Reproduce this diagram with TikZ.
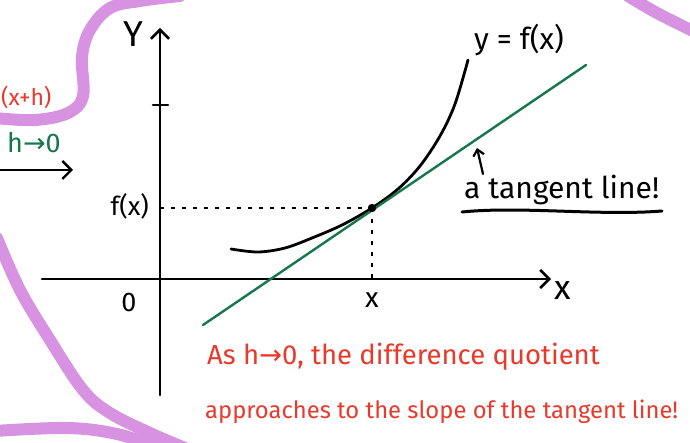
\documentclass[tikz,border=0pt]{standalone}
\usepackage{fontspec}
\setmainfont{Fira Sans}
\newfontfamily\arr{DejaVu Sans}
\usetikzlibrary{arrows.meta}
\definecolor{pen}{HTML}{E8392A}
\definecolor{grn}{HTML}{16784A}
\definecolor{lilac}{HTML}{D892E2}
\begin{document}
\begin{tikzpicture}[x=1pt,y=-1pt,
  ink/.style={line width=2.6pt,line cap=round,line join=round},
  barb/.style={-{Straight Barb[length=9pt,width=18pt]}},
  smallbarb/.style={-{Straight Barb[length=6pt,width=11pt]}},
  band/.style={lilac,line width=12pt,line cap=round,line join=round},
  dots/.style={line width=2.4pt,dash pattern=on 4pt off 7pt},
  lbl/.style={inner sep=0pt,font=\fontsize{24}{28}\selectfont}]
\useasboundingbox (0,0) rectangle (690,443);
% purple bands
\draw[band] plot[smooth,tension=0.6] coordinates {(-5,118) (35,120) (68,113) (83,96) (82,57) (90,30) (110,8) (140,1) (180,-4)};
\draw[band] plot[smooth,tension=0.6] coordinates {(628,-4) (657,13) (695,32)};
\draw[band] plot[smooth,tension=0.6] coordinates {(-3,238) (20,290) (50,340) (83,390) (110,413) (150,433) (185,448)};
\draw[band] plot[smooth,tension=0.6] coordinates {(-5,431) (67,428) (117,434) (160,448)};
% axes
\coordinate (ybot) at (160,395);
\coordinate (ytop) at (160,28);
\coordinate (xl) at (42,279);
\coordinate (xr) at (551,279);
\draw[ink,barb] (ybot) -- (ytop);
\draw[ink,barb] (xl) -- (xr);
\coordinate (t1) at (153,105);
\coordinate (t2) at (168,105);
\draw[ink] (t1) -- (t2);
\node[lbl,font=\fontsize{36}{36}\selectfont] (Y) at (133,34) {Y};
\node[lbl,font=\fontsize{34}{34}\selectfont] (X) at (563,291) {x};
\node[lbl,font=\fontsize{27}{28}\selectfont] (O) at (129,302) {0};
% point and dotted guides
\coordinate (P) at (372,208);
\coordinate (fy) at (160,208);
\coordinate (fx) at (372,279);
\draw[dots] (fy) -- (P);
\draw[dots] (P) -- (fx);
\node[lbl,anchor=east,font=\fontsize{26}{28}\selectfont] (fxl) at (149,206) {f(x)};
\node[lbl,font=\fontsize{28}{28}\selectfont] (xl2) at (372,300) {x};
% curve
\draw[ink,line width=2.8pt] plot[smooth,tension=0.55] coordinates {(231,249) (258,252) (285,248) (312,238) (342,225) (372,208) (398,189) (420,166) (440,136) (455,104) (468,60)};
% tangent
\coordinate (g1) at (203,325);
\coordinate (g2) at (586,65);
\draw[grn,line width=2.4pt,line cap=round] (g1) -- (g2);
\fill (P) circle (4.2pt);
\node[lbl,font=\fontsize{30}{32}\selectfont,anchor=west] (yf) at (474,40) {y = f(x)};
% tangent annotation
\node[lbl,font=\fontsize{30}{32}\selectfont,anchor=west] (tl) at (464,190) {a tangent line!};
\coordinate (a1) at (483,174);
\coordinate (a2) at (477,148);
\draw[ink,line width=2.2pt,smallbarb] (a1) -- (a2);
\coordinate (u1) at (462,212);
\coordinate (u2) at (662,211);
\draw[ink,line width=3pt] (u1) .. controls (520,206) and (600,216) .. (u2);
% left fragment
\node[lbl,text=pen,font=\fontsize{23}{26}\selectfont,anchor=west] (fxh) at (1,97) {(x+h)};
\node[lbl,text=grn,font=\fontsize{27}{28}\selectfont,anchor=west] (h0) at (7,143) {h{\arr →}0};
\coordinate (la1) at (0,170);
\coordinate (la2) at (73,170);
\draw[ink,line width=2.4pt,barb] (la1) -- (la2);
% red statement
\node[lbl,text=pen,font=\fontsize{27.5}{30}\selectfont,anchor=west] (r1) at (207,357) {As h{\arr →}0, the difference quotient};
\node[lbl,text=pen,font=\fontsize{23.8}{28}\selectfont,anchor=west] (r2) at (205,412) {approaches to the slope of the tangent line!};
\end{tikzpicture}
\end{document}
